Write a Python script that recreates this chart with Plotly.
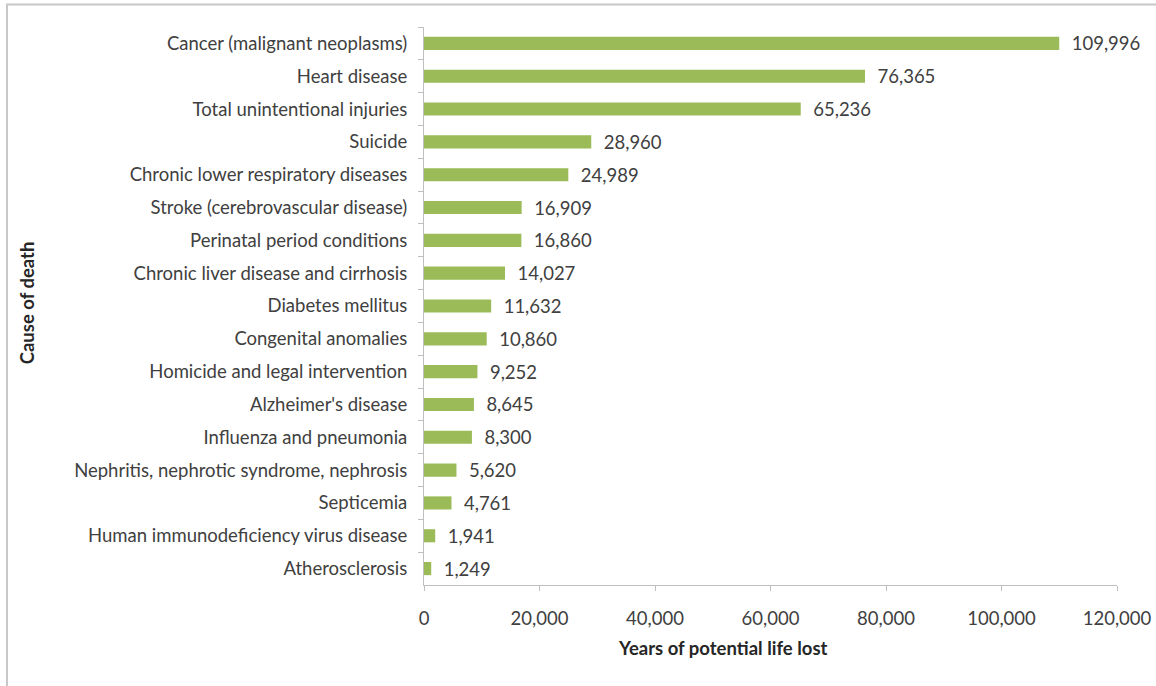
import plotly.graph_objects as go

causes = [
    "Cancer (malignant neoplasms)",
    "Heart disease",
    "Total unintentional injuries",
    "Suicide",
    "Chronic lower respiratory diseases",
    "Stroke (cerebrovascular disease)",
    "Perinatal period conditions",
    "Chronic liver disease and cirrhosis",
    "Diabetes mellitus",
    "Congenital anomalies",
    "Homicide and legal intervention",
    "Alzheimer's disease",
    "Influenza and pneumonia",
    "Nephritis, nephrotic syndrome, nephrosis",
    "Septicemia",
    "Human immunodeficiency virus disease",
    "Atherosclerosis",
]
ypll = [109996, 76365, 65236, 28960, 24989, 16909, 16860, 14027, 11632,
        10860, 9252, 8645, 8300, 5620, 4761, 1941, 1249]
x_ticks = [0, 20000, 40000, 60000, 80000, 100000, 120000]

FONT = "Lato, 'Open Sans', sans-serif"
TXT = "#404040"
TITLE = "#262626"
AX = "#BFBFBF"
FS = 18.5

fig = go.Figure(go.Bar(
    x=ypll, y=causes, orientation="h",
    marker=dict(color="#9BBB59", line=dict(width=0)),
    width=0.4,
    text=["\u00a0\u00a0" + f"{v:,}" for v in ypll],
    textposition="outside", cliponaxis=False, constraintext="none",
    textfont=dict(family=FONT, size=FS, color=TXT),
    hoverinfo="skip",
))

L, R, T, B = 424, 39, 26.5, 101
W, H = 1156, 686
pw, ph = W - L - R, H - T - B

fig.update_layout(
    width=W, height=H,
    margin=dict(l=L, r=R, t=T, b=B, pad=0, autoexpand=False),
    paper_bgcolor="white", plot_bgcolor="white",
    showlegend=False,
    font=dict(family=FONT, size=FS, color=TXT),
    xaxis=dict(
        range=[0, 120000], tickvals=x_ticks, tickformat=",",
        showgrid=False, zeroline=False, automargin=False,
        showline=True, linecolor=AX, linewidth=1,
        ticks="outside", ticklen=5, tickcolor=AX,
        ticklabelstandoff=12,
        tickfont=dict(family=FONT, size=FS, color=TXT),
    ),
    yaxis=dict(
        autorange="reversed", type="category",
        showgrid=False, zeroline=False, automargin=False,
        showline=True, linecolor=AX, linewidth=1,
        ticks="outside", ticklen=5, tickcolor=AX, tickson="boundaries",
        ticklabelstandoff=12,
        tickfont=dict(family=FONT, size=FS, color=TXT),
    ),
    annotations=[
        dict(text="<b>Years of potential life lost</b>", xref="paper", yref="paper",
             x=(723 - L) / pw, y=-(648 - (T + ph)) / ph, xanchor="center", yanchor="middle",
             showarrow=False, font=dict(family=FONT, size=FS, color=TITLE)),
        dict(text="<b>Cause of death</b>", xref="paper", yref="paper",
             x=(27 - L) / pw, y=(H - B - 303) / ph, xanchor="center", yanchor="middle",
             textangle=-90, showarrow=False,
             font=dict(family=FONT, size=FS, color=TITLE)),
    ],
    shapes=[dict(
        type="rect", xref="paper", yref="paper",
        x0=(7 - L) / pw, x1=(W + 4 - L) / pw,
        y0=-(B + 4) / ph, y1=1 + (T - 4) / ph,
        line=dict(color="#C8C8C8", width=2), fillcolor="rgba(0,0,0,0)",
        layer="below",
    )],
)
fig.write_html("out.html")
